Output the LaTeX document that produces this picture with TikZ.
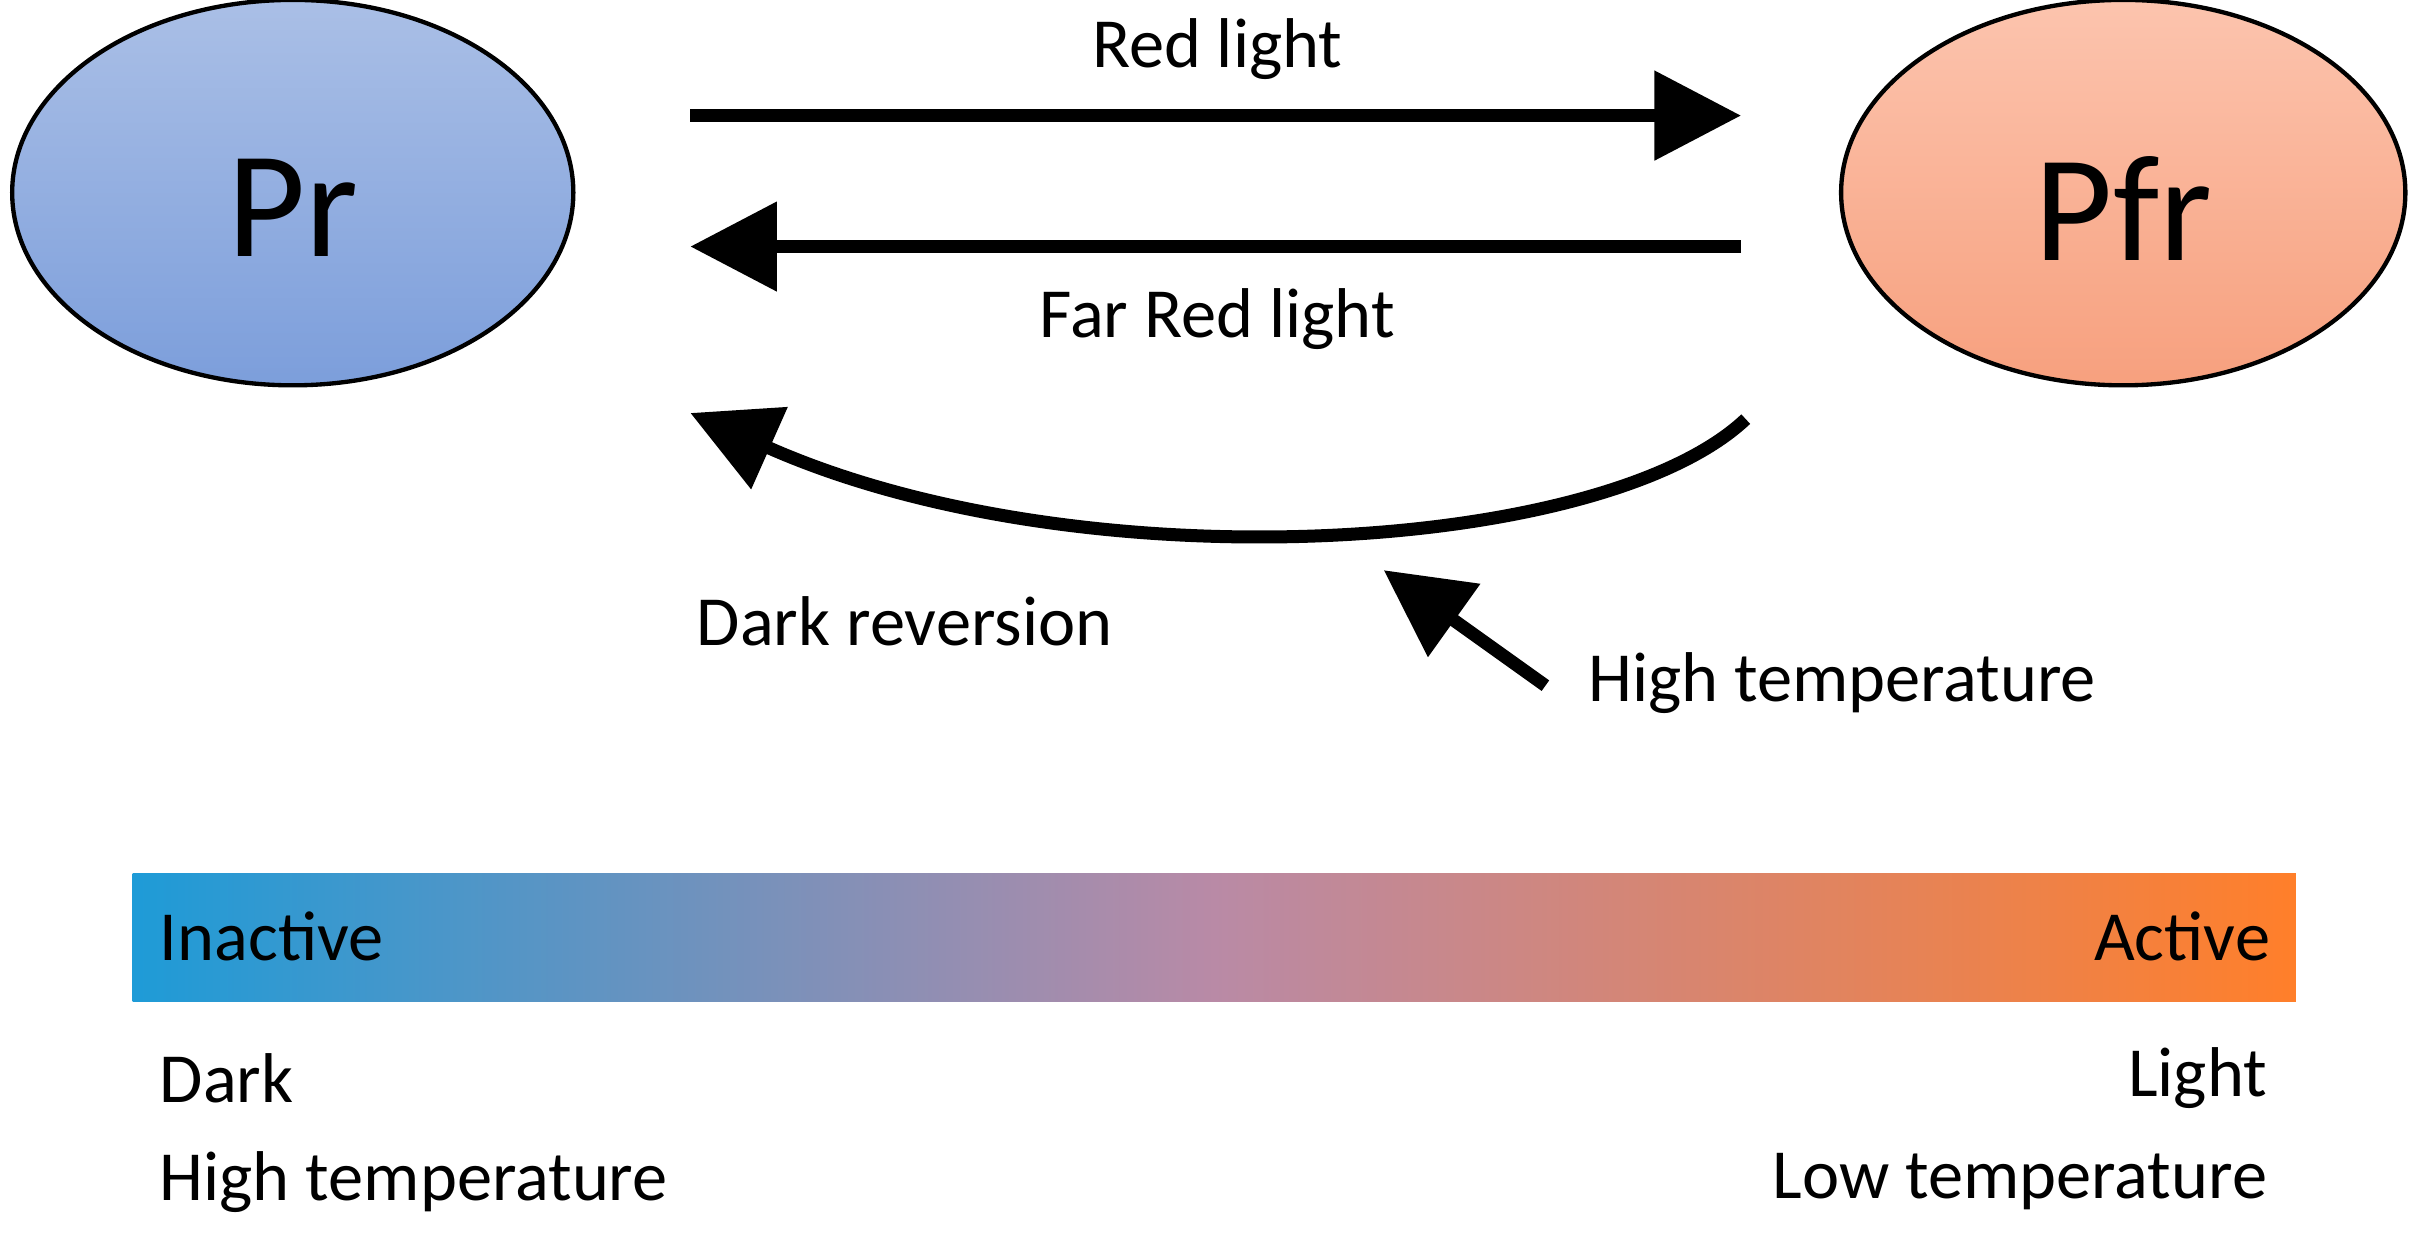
\documentclass[tikz,border=0pt]{standalone}
\usepackage{fontspec}
\setmainfont{Carlito}
\usetikzlibrary{arrows.meta,shapes.geometric}
\definecolor{prT}{RGB}{170,191,230}
\definecolor{prB}{RGB}{124,158,219}
\definecolor{pfT}{RGB}{252,196,174}
\definecolor{pfB}{RGB}{247,160,126}
\definecolor{gL}{RGB}{30,155,215}
\definecolor{gM}{RGB}{185,138,166}
\definecolor{gR}{RGB}{255,127,42}
\begin{document}
\begin{tikzpicture}[x=0.01cm,y=-0.01cm,
  big/.style={font=\fontsize{28}{32}\selectfont},
  lbl/.style={font=\fontsize{13}{15}\selectfont,inner sep=0},
  arr/.style={line width=2.4pt,-{Triangle[length=16pt,width=16pt]}}]
\useasboundingbox (0,0) rectangle (1568,805);
\node[ellipse,draw=black,line width=0.8pt,minimum width=3.64cm,minimum height=2.5cm,top color=prT,bottom color=prB] (pr) at (190,125) {};
\node[big] (prt) at (190,135) {Pr};
\node[ellipse,draw=black,line width=0.8pt,minimum width=3.66cm,minimum height=2.5cm,top color=pfT,bottom color=pfB] (pfr) at (1378,125) {};
\node[big] (pfrt) at (1378,135) {Pfr};
\coordinate (a1s) at (448,75); \coordinate (a1e) at (1130,75);
\coordinate (a2s) at (1130,160); \coordinate (a2e) at (448,160);
\draw[arr] (a1s) -- (a1e);
\draw[arr] (a2s) -- (a2e);
\node[lbl] (rl) at (790,32) {Red light};
\node[lbl] (frl) at (790,207) {Far Red light};
\coordinate (cs) at (1133,272); \coordinate (ce) at (448,268);
\draw[arr] (cs) .. controls (1040,360) and (700,380) .. (ce);
\node[lbl] (dr) at (587,403) {Dark reversion};
\coordinate (hs) at (1003,445); \coordinate (he) at (898,370);
\draw[arr] (hs) -- (he);
\node[lbl,anchor=west] (ht) at (1030,443) {High temperature};
\shade[left color=gL,right color=gR,middle color=gM] (86,567) rectangle (1490,650);
\node[lbl,anchor=west] (in) at (103,608) {Inactive};
\node[lbl,anchor=east] (ac) at (1474,608) {Active};
\node[lbl,anchor=west] (d) at (103,700) {Dark};
\node[lbl,anchor=west] (h) at (103,767) {High temperature};
\node[lbl,anchor=east] (l) at (1472,700) {Light};
\node[lbl,anchor=east] (lt) at (1472,767) {Low temperature};
\end{tikzpicture}
\end{document}
